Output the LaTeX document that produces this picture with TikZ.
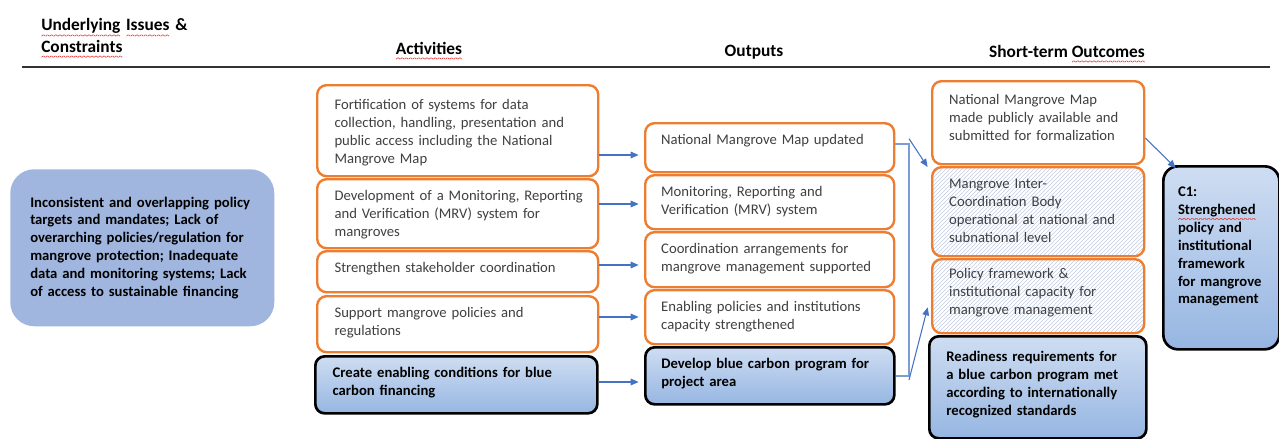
\documentclass[tikz,border=0pt]{standalone}
\usepackage{fontspec}
\setmainfont{Carlito}
\usetikzlibrary{arrows.meta}
\usetikzlibrary{patterns}

\definecolor{boxorange}{RGB}{237,125,49}
\definecolor{issueblue}{RGB}{160,182,222}
\definecolor{bluetop}{RGB}{206,221,242}
\definecolor{bluebot}{RGB}{150,182,226}
\definecolor{hatchgrey}{RGB}{196,206,224}
\definecolor{linkblue}{RGB}{68,114,196}
\definecolor{txtgrey}{RGB}{64,64,64}
\definecolor{rulegrey}{RGB}{50,50,50}
\definecolor{spellred}{RGB}{225,45,45}

% red wavy underline made of small tilted rules
\newcommand\wavepiece{\rotatebox{40}{\rule{1.6pt}{0.45pt}}\raisebox{1pt}{\rotatebox{-40}{\rule{1.6pt}{0.45pt}}}}
\newcommand\spellwave[1]{\leavevmode\setbox0\hbox{#1}\rlap{\raisebox{-4pt}{\hbox to\wd0{\color{spellred}\xleaders\hbox{\wavepiece}\hfil}}}\box0\relax}

\tikzset{
  card/.style={anchor=north west, align=left, rounded corners=7pt, inner ysep=4pt, text height=12pt, font=\fontsize{11}{13.4}\selectfont},
  orangebox/.style={card, draw=boxorange, line width=1.8pt, text=txtgrey},
  actbox/.style={orangebox, fill=white, inner xsep=13pt, text width=184.75pt},
  outbox/.style={orangebox, fill=white, inner xsep=12pt, text width=162.75pt},
  resbox/.style={orangebox, fill=white, inner xsep=12.75pt, text width=133.5pt},
  hatchbox/.style={orangebox, inner xsep=12.75pt, text width=133.5pt, preaction={fill=white}, pattern=north east lines, pattern color=hatchgrey},
  keybox/.style={card, draw=black, line width=2pt, top color=bluetop, bottom color=bluebot, font=\fontsize{11}{13.4}\selectfont\bfseries},
  issuebox/.style={anchor=north west, align=left, fill=issueblue, rounded corners=18pt, minimum height=117.75pt, inner xsep=15pt, text width=168pt, font=\fontsize{11}{13.4}\selectfont\bfseries},
  header/.style={font=\fontsize{13}{15.9}\selectfont\bfseries, inner sep=0pt, anchor=base},
  flow/.style={draw=linkblue, line width=0.8pt, shorten >=4pt, -{Triangle[length=6pt,width=5pt]}},
  link/.style={draw=linkblue!70, line width=0.8pt}
}

\begin{document}
\begin{tikzpicture}[x=0.75pt,y=0.75pt,yscale=-1,xscale=1]
\useasboundingbox (0,0) rectangle (1279,439);

% Text Node
\node [header, anchor=base west, align=left, text width=150pt] (hdrIssues) at (41,31) {\spellwave{Underlying} \spellwave{Issues} \&\\\spellwave{Constraints}};
% Text Node
\node [header] (hdrActs) at (429,54) {\spellwave{Activities}};
% Text Node
\node [header] (hdrOuts) at (754,56) {Outputs};
% Text Node
\node [header] (hdrRes) at (1067,57) {Short-term \spellwave{Outcomes}};
%Straight Lines
\draw [rulegrey, line width=2pt] (22,67) -- (1270,67);

%Shape: Rounded Rect
\node [issuebox] (issues) at (10,169) {Inconsistent and overlapping policy\\ targets and mandates; Lack of\\ overarching policies/regulation for\\ mangrove protection; Inadequate\\ data and monitoring systems; Lack\\ of access to sustainable financing};

%Shape: Rounded Rect
\node [actbox, text height=14.25pt, text depth=46pt] (act1) at (316,84) {Fortification of systems for data\\ collection, handling, presentation and\\ public access including the National\\ Mangrove Map};
%Shape: Rounded Rect
\node [actbox, text depth=31.75pt] (act2) at (316,178) {\mbox{Development of a Monitoring, Reporting}\\ and Verification (MRV) system for\\ mangroves};
%Shape: Rounded Rect
\node [actbox, text depth=10.75pt] (act3) at (316,250) {Strengthen stakeholder coordination};
%Shape: Rounded Rect
\node [actbox, text depth=22pt] (act4) at (316,295) {Support mangrove policies and\\ regulations};
%Shape: Rounded Rect
\node [keybox, inner xsep=13pt, text width=185.5pt, text depth=22.75pt] (act5) at (314,355) {Create enabling conditions for blue\\ carbon financing};

%Shape: Rounded Rect
\node [outbox, text depth=16.75pt] (out1) at (644,122) {National Mangrove Map updated};
%Shape: Rounded Rect
\node [outbox, text depth=20.5pt] (out2) at (644,174) {Monitoring, Reporting and\\ Verification (MRV) system};
%Shape: Rounded Rect
\node [outbox, text depth=21.25pt] (out3) at (644,231) {Coordination arrangements for\\ mangrove management supported};
%Shape: Rounded Rect
\node [outbox, text depth=20.5pt] (out4) at (644,289) {Enabling policies and institutions\\ capacity strengthened};
%Shape: Rounded Rect
\node [keybox, inner xsep=12pt, text width=162.75pt, text depth=22.75pt] (out5) at (644,346) {Develop blue carbon program for\\ project area};

%Shape: Rounded Rect
\node [resbox, text height=13.5pt, text depth=40.75pt] (res1) at (931,80) {National Mangrove Map\\ made publicly available and\\ submitted for formalization};
%Shape: Rounded Rect
\node [hatchbox, text depth=46.75pt] (res2) at (931,166) {Mangrove Inter-\\ Coordination Body\\ operational at national and\\ subnational level};
%Shape: Rounded Rect
\node [hatchbox, text height=10.5pt, text depth=37pt] (res3) at (931,258) {Policy framework \&\\ institutional capacity for\\ mangrove management};
%Shape: Rounded Rect
\node [keybox, inner xsep=12.75pt, text width=137.25pt, text height=15pt, text depth=53.5pt] (res4) at (928,335) {Readiness requirements for\\ a blue carbon program met\\ according to internationally\\ recognized standards};

%Shape: Rounded Rect
\node [keybox, rounded corners=11pt, inner xsep=11pt, text width=65pt, text height=18.75pt, text depth=110.5pt] (goal) at (1162,165) {C1:\\ \spellwave{Strenghened}\\ policy and\\ institutional\\ framework\\ for mangrove\\ management};

%Straight Lines
\draw [flow] (act1.east |- 0,155) -- (out1.west |- 0,155);
\draw [flow] (act2.east |- 0,204) -- (out2.west |- 0,204);
\draw [flow] (act3.east |- 0,265) -- (out3.west |- 0,265);
\draw [flow] (act4.east |- 0,317) -- (out4.west |- 0,317);
\draw [flow] (act5.east |- 0,382) -- (out5.west |- 0,382);

%Straight Lines
\coordinate (busTop) at (909,144);
\coordinate (busBot) at (909,376);
\draw [link] (out1.east |- busTop) -- (busTop) -- (busBot) -- (out5.east |- busBot);
\draw [flow, shorten >=1pt] ([yshift=-4pt]busTop) -- ([xshift=-2pt,yshift=2pt]res1.south west);
\draw [flow, shorten >=1pt] ([yshift=3pt]busBot) -- ([yshift=-21.75pt]res4.north west);
\draw [flow, shorten >=1pt] (res1.east |- 0,138) -- ([xshift=11pt,yshift=3pt]goal.north west);
\end{tikzpicture}
\end{document}
